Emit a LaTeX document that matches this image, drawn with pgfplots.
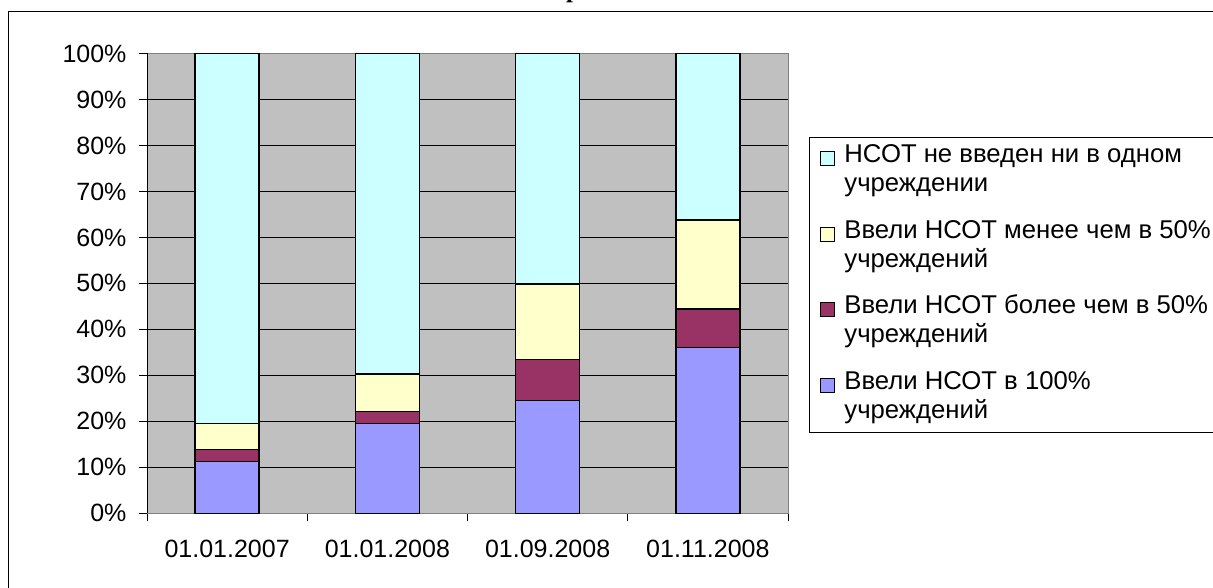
\documentclass[border=0pt]{standalone}
\usepackage{fontspec}
\setmainfont{Liberation Sans}
\newfontfamily\serifb{Liberation Serif}
\usepackage{pgfplots}
\pgfplotsset{compat=1.18}
\definecolor{cA}{HTML}{9999FF}
\definecolor{cB}{HTML}{993366}
\definecolor{cC}{HTML}{FFFFCC}
\definecolor{cD}{HTML}{CCFFFF}
\definecolor{bg}{HTML}{C0C0C0}
\definecolor{axg}{HTML}{808080}
\pgfplotsset{
  mylegend/.style={legend image code/.code={\draw[##1,draw=black,line width=0.9pt] (0pt,6pt) rectangle (14pt,20pt);}}
}
\begin{document}
\begin{tikzpicture}[x=1pt,y=1pt]
\useasboundingbox (0,0) rectangle (1213,588);
\draw[black,line width=1pt] (8,-10) rectangle (1240,576);
\node[anchor=base,font=\serifb\bfseries\fontsize{25}{30}\selectfont,inner sep=0pt] at (573,590) {р};
\begin{axis}[
  at={(147pt,74.7pt)}, anchor=south west,
  scale only axis, width=641pt, height=459.8pt,
  xmin=-0.5, xmax=3.5, ymin=0, ymax=100,
  ybar stacked, bar width=64pt,
  xtick={-0.5,0.5,1.5,2.5,3.5}, xticklabels={},
  extra x ticks={0,1,2,3},
  extra x tick labels={01.01.2007,01.01.2008,01.09.2008,01.11.2008},
  extra x tick style={major tick length=0pt},
  ytick={0,10,...,100},
  yticklabels={0\%,10\%,20\%,30\%,40\%,50\%,60\%,70\%,80\%,90\%,100\%},
  tick align=outside, tick pos=left, major tick length=8pt,
  tick style={black,line width=0.8pt},
  ymajorgrids, grid style={black,line width=0.8pt},
  axis background/.style={fill=bg},
  axis line style={draw=axg,line width=1pt},
  ticklabel style={font=\fontsize{25}{30}\selectfont},
  xticklabel style={yshift=-23pt},
  yticklabel style={xshift=-9pt},
  reverse legend,
  legend cell align=left,
  legend style={at={(1.0328,0.818)}, anchor=north west, draw=black, line width=1pt, fill=white,
    font=\fontsize{25.7}{29}\selectfont, nodes={inner sep=0pt, text depth=37.7pt, text height=20.3pt},
    row sep=17.5pt, column sep=10pt, inner xsep=10pt, inner ysep=5pt},
]
\addplot[fill=cA,draw=black,line width=1.3pt,mylegend] coordinates {(0,11.2) (1,19.6) (2,24.6) (3,36.1)};
\addplot[fill=cB,draw=black,line width=1.3pt,mylegend] coordinates {(0,2.6) (1,2.5) (2,8.9) (3,8.3)};
\addplot[fill=cC,draw=black,line width=1.3pt,mylegend] coordinates {(0,5.8) (1,8.2) (2,16.4) (3,19.4)};
\addplot[fill=cD,draw=black,line width=1.3pt,mylegend] coordinates {(0,80.4) (1,69.7) (2,50.1) (3,36.2)};
\addlegendentry{\parbox[t]{380pt}{\strut Ввели НСОТ в 100\%\\учреждений\strut}}
\addlegendentry{\parbox[t]{380pt}{\strut Ввели НСОТ более чем в 50\%\\учреждений\strut}}
\addlegendentry{\parbox[t]{380pt}{\strut Ввели НСОТ менее чем в 50\%\\учреждений\strut}}
\addlegendentry{\parbox[t]{380pt}{\strut НСОТ не введен ни в одном\\учреждении\strut}}
\draw[black,line width=1pt] (rel axis cs:0,0) -- (rel axis cs:0,1);
\end{axis}
\end{tikzpicture}
\end{document}
